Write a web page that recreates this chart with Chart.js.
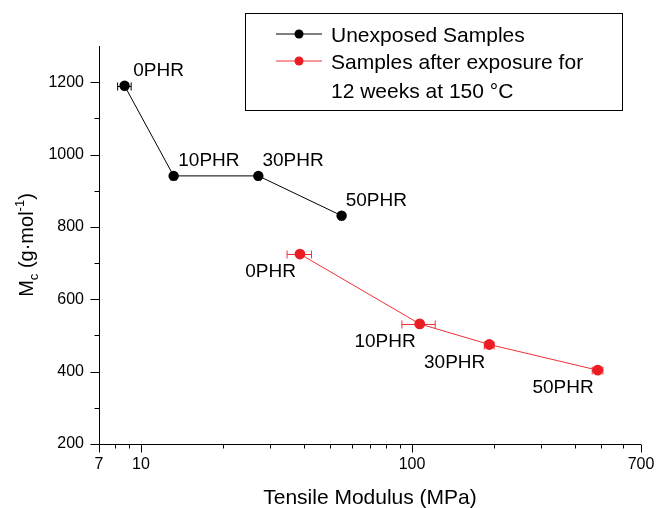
<!DOCTYPE html>
<html lang="en">
<head>
  <meta charset="UTF-8" />
  <title>Mc vs Tensile Modulus</title>
  <script src="https://cdn.jsdelivr.net/npm/chart.js"></script>
  <style>
    body { margin: 0; background: #fff; }
    canvas { display: block; }
  </style>
</head>
<body>
  <canvas id="graficoMc" width="657" height="508"></canvas>

  <script>
    // data
    var phrLabels = ['0PHR', '10PHR', '30PHR', '50PHR'];

    var unexposedModulus = [8.7, 13.2, 27.1, 55];
    var unexposedMc = [1190, 941, 941, 831];
    var unexposedModulusErr = [0.5, 0.3, 0.5, 1];

    var agedModulus = [38.6, 106.8, 192.9, 484.6];
    var agedMc = [725, 532, 475, 404];
    var agedModulusErr = [4, 15, 8, 22];

    var xLabels = [7, 10, 100, 700];
    var xMinor = [8, 9, 20, 30, 40, 50, 60, 70, 80, 90, 200, 300, 400, 500, 600];
    var yLabels = [200, 400, 600, 800, 1000, 1200];
    var yMinor = [300, 500, 700, 900, 1100];

    var legendUnexposed = ['Unexposed Samples'];
    var legendAged = ['Samples after exposure for', '12 weeks at 150 \u00B0C'];

    var FONT = 'Arial, "Liberation Sans", sans-serif';
    var BLACK = '#000000';
    var RED = '#ec1c24';
    var RED_LINE = '#ef3036';

    function pontos(xs, ys) {
      var lista = [];
      for (var i = 0; i < xs.length; i++) {
        lista.push({ x: xs[i], y: ys[i] });
      }
      return lista;
    }

    // axis lines + outward ticks (major long, minor short)
    var eixosPlugin = {
      id: 'eixos',
      beforeDatasetsDraw: function(chart) {
        var ctx = chart.ctx;
        var area = chart.chartArea;
        var sx = chart.scales.x;
        var sy = chart.scales.y;
        ctx.save();
        ctx.strokeStyle = '#000';
        ctx.lineWidth = 1;
        ctx.beginPath();
        var left = Math.round(area.left) + 0.5;
        var bottom = Math.round(area.bottom) + 0.5;
        ctx.moveTo(left, area.top);
        ctx.lineTo(left, bottom);
        ctx.lineTo(area.right, bottom);

        for (var i = 0; i < xLabels.length; i++) {
          var px = Math.round(sx.getPixelForValue(xLabels[i])) + 0.5;
          ctx.moveTo(px, bottom);
          ctx.lineTo(px, bottom + 8);
        }
        for (var j = 0; j < xMinor.length; j++) {
          var mx = Math.round(sx.getPixelForValue(xMinor[j])) + 0.5;
          ctx.moveTo(mx, bottom);
          ctx.lineTo(mx, bottom + 4);
        }
        for (var k = 0; k < yLabels.length; k++) {
          var py = Math.round(sy.getPixelForValue(yLabels[k])) + 0.5;
          ctx.moveTo(left, py);
          ctx.lineTo(left - 9, py);
        }
        for (var m = 0; m < yMinor.length; m++) {
          var my = Math.round(sy.getPixelForValue(yMinor[m])) + 0.5;
          ctx.moveTo(left, my);
          ctx.lineTo(left - 5, my);
        }
        ctx.stroke();
        ctx.restore();
      }
    };

    // horizontal error bars on the modulus
    var erroPlugin = {
      id: 'erros',
      beforeDatasetsDraw: function(chart) {
        var ctx = chart.ctx;
        var sx = chart.scales.x;
        var sy = chart.scales.y;
        ctx.save();
        ctx.lineWidth = 1;
        chart.data.datasets.forEach(function(ds) {
          ctx.strokeStyle = ds.borderColor;
          for (var i = 0; i < ds.data.length; i++) {
            var p = ds.data[i];
            var e = ds.xErr[i];
            var x1 = sx.getPixelForValue(p.x - e);
            var x2 = sx.getPixelForValue(p.x + e);
            var y = Math.round(sy.getPixelForValue(p.y)) + 0.5;
            ctx.beginPath();
            ctx.moveTo(x1, y);
            ctx.lineTo(x2, y);
            ctx.moveTo(x1, y - 4);
            ctx.lineTo(x1, y + 4);
            ctx.moveTo(x2, y - 4);
            ctx.lineTo(x2, y + 4);
            ctx.stroke();
          }
        });
        ctx.restore();
      }
    };

    // PHR labels next to each point
    var rotulosPlugin = {
      id: 'rotulos',
      afterDatasetsDraw: function(chart) {
        var ctx = chart.ctx;
        var sx = chart.scales.x;
        ctx.save();
        ctx.font = '19px ' + FONT;
        ctx.fillStyle = '#000';
        ctx.textBaseline = 'alphabetic';
        chart.data.datasets.forEach(function(ds, d) {
          var meta = chart.getDatasetMeta(d);
          meta.data.forEach(function(el, i) {
            if (ds.labelPos === 'above') {
              // start just past the dot or the error bar cap, whichever is further
              var errRight = sx.getPixelForValue(ds.data[i].x + ds.xErr[i]);
              var x0 = Math.max(el.x + 4, errRight + 2);
              ctx.textAlign = 'left';
              ctx.fillText(phrLabels[i], x0, el.y - 10);
            } else {
              ctx.textAlign = 'right';
              ctx.fillText(phrLabels[i], el.x - 4, el.y + 23);
            }
          });
        });
        ctx.restore();
      }
    };

    // boxed legend + axis titles
    var legendaPlugin = {
      id: 'legenda',
      afterDraw: function(chart) {
        var ctx = chart.ctx;
        var area = chart.chartArea;
        ctx.save();

        ctx.strokeStyle = '#000';
        ctx.lineWidth = 1;
        ctx.strokeRect(245.5, 13.5, 377, 97);

        var entradas = [
          { ds: chart.data.datasets[0], y: 34, linhas: legendUnexposed },
          { ds: chart.data.datasets[1], y: 61, linhas: legendAged }
        ];
        ctx.font = '21px ' + FONT;
        ctx.textAlign = 'left';
        ctx.textBaseline = 'alphabetic';
        entradas.forEach(function(ent) {
          ctx.strokeStyle = ent.ds.borderColor;
          ctx.beginPath();
          ctx.moveTo(276, ent.y);
          ctx.lineTo(322, ent.y);
          ctx.stroke();
          ctx.fillStyle = ent.ds.pointBackgroundColor;
          ctx.beginPath();
          ctx.arc(299, ent.y, 4.5, 0, Math.PI * 2);
          ctx.fill();
          ctx.fillStyle = '#000';
          for (var i = 0; i < ent.linhas.length; i++) {
            ctx.fillText(ent.linhas[i], 331, ent.y + 8 + i * 29);
          }
        });

        // x title
        ctx.font = '21px ' + FONT;
        ctx.textAlign = 'center';
        ctx.fillText('Tensile Modulus (MPa)', (area.left + area.right) / 2, 504);

        // y title with subscript / superscript
        var grande = '20px ' + FONT;
        var pequeno = '13px ' + FONT;
        var partes = [
          { t: 'M', f: grande, dy: 0 },
          { t: 'c', f: pequeno, dy: 5 },
          { t: ' (g\u00B7mol', f: grande, dy: 0 },
          { t: '-1', f: pequeno, dy: -9 },
          { t: ')', f: grande, dy: 0 }
        ];
        var total = 0;
        partes.forEach(function(p) { ctx.font = p.f; total += ctx.measureText(p.t).width; });
        ctx.translate(33, (area.top + area.bottom) / 2);
        ctx.rotate(-Math.PI / 2);
        ctx.textAlign = 'left';
        var cx = -total / 2;
        partes.forEach(function(p) {
          ctx.font = p.f;
          ctx.fillText(p.t, cx, p.dy);
          cx += ctx.measureText(p.t).width;
        });

        ctx.restore();
      }
    };

    Chart.defaults.font.family = FONT;
    Chart.defaults.color = '#000';

    new Chart(document.getElementById('graficoMc'), {
      type: 'scatter',
      data: {
        datasets: [{
          label: 'Unexposed Samples',
          data: pontos(unexposedModulus, unexposedMc),
          xErr: unexposedModulusErr,
          labelPos: 'above',
          showLine: true,
          borderColor: BLACK,
          borderWidth: 1,
          pointBackgroundColor: BLACK,
          pointBorderColor: BLACK,
          pointRadius: 5.2,
          pointBorderWidth: 0
        }, {
          label: 'Samples after exposure for 12 weeks at 150 \u00B0C',
          data: pontos(agedModulus, agedMc),
          xErr: agedModulusErr,
          labelPos: 'below',
          showLine: true,
          borderColor: RED_LINE,
          borderWidth: 1,
          pointBackgroundColor: RED,
          pointBorderColor: RED,
          pointRadius: 5.4,
          pointBorderWidth: 0
        }]
      },
      options: {
        responsive: false,
        animation: false,
        layout: { padding: { left: 0, top: 46, right: 16, bottom: 0 } },
        plugins: {
          legend: { display: false },
          tooltip: { enabled: false }
        },
        scales: {
          x: {
            type: 'logarithmic',
            min: 7,
            max: 700,
            grid: { display: false, drawTicks: false },
            border: { display: false },
            afterFit: function(scale) {
              scale.height = 64;
              scale.paddingLeft = 0;
              scale.paddingRight = 0;
            },
            afterBuildTicks: function(scale) {
              scale.ticks = xLabels.map(function(v) { return { value: v }; });
            },
            ticks: {
              autoSkip: false,
              maxRotation: 0,
              padding: 11,
              font: { size: 16 },
              callback: function(value) { return String(value); }
            }
          },
          y: {
            min: 200,
            max: 1300,
            grid: { display: false, drawTicks: false },
            border: { display: false },
            afterFit: function(scale) {
              scale.width = 99;
              scale.paddingTop = 0;
              scale.paddingBottom = 0;
            },
            afterBuildTicks: function(scale) {
              scale.ticks = yLabels.map(function(v) { return { value: v }; });
            },
            ticks: {
              padding: 15,
              font: { size: 16 },
              callback: function(value) { return String(value); }
            }
          }
        }
      },
      plugins: [eixosPlugin, erroPlugin, rotulosPlugin, legendaPlugin]
    });
  </script>
</body>
</html>
